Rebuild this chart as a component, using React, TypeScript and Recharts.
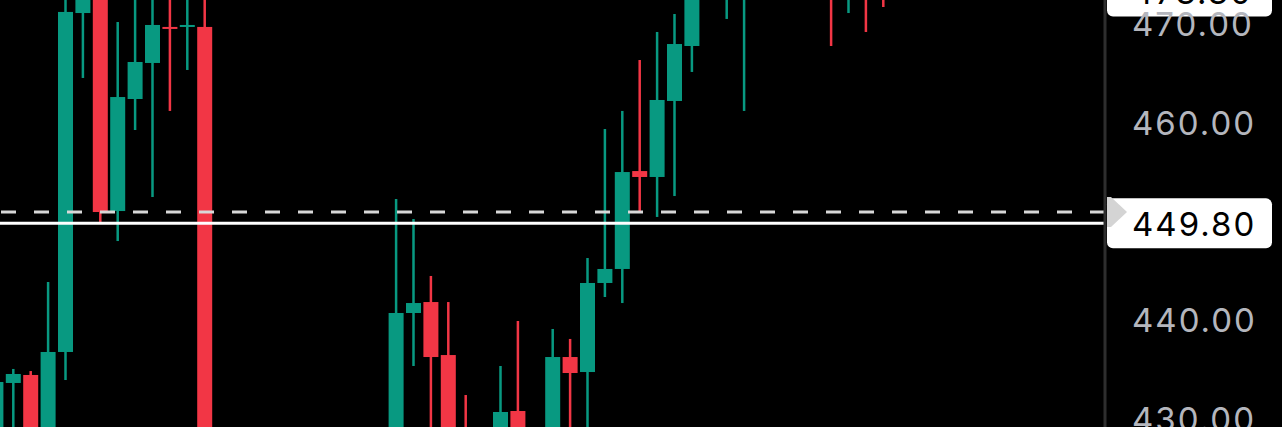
import { ComposedChart, Bar, XAxis, YAxis, ReferenceLine } from "recharts";

const GREEN = "#089981";
const RED = "#f23645";
const TICK_FONT = "Inter, 'Noto Sans', sans-serif";

// candle index on the time axis
const candleIdx = [
  0, 1, 2, 3, 4, 5, 6, 7, 8, 9, 10, 11, 12, 13, 14, 15, 16, 17, 18, 19, 20, 21, 22, 23, 24, 25,
  26, 27, 28, 29, 30, 31, 32, 33, 34, 35, 36, 37, 38, 39, 40, 41, 42, 43, 44, 45, 46, 47, 48, 49, 50, 51,
];
const opens = [
  428.0, 433.63, 434.44, 428.0, 436.77, 471.11, 475.0, 451.05, 462.4, 466.05, 469.7, 469.7, 469.7,
  427.0, 422.0, 424.0, 420.0, 423.0, 419.0, 421.5, 420.0, 423.0, 425.0, 426.0, 440.72, 441.83,
  436.46, 427.5, 425.0, 427.0, 430.79, 427.5, 428.5, 436.26, 434.74, 443.76, 445.18, 455.1, 454.5,
  462.2, 467.77, 473.5, 474.0, 474.0, 477.0, 478.0, 476.0, 477.0, 478.0, 474.0, 476.0, 475.0,
];
const highs = [
  434.2, 435.05, 434.84, 443.86, 473.5, 475.5, 476.0, 470.2, 473.5, 473.5, 473.0, 473.0, 474.0,
  428.5, 426.0, 425.0, 424.5, 424.0, 423.0, 424.0, 425.0, 427.0, 427.5, 452.27, 450.24, 444.47,
  441.83, 432.41, 428.8, 435.35, 439.91, 429.0, 439.1, 438.09, 446.29, 459.36, 461.19, 466.35, 469.19,
  471.01, 474.0, 476.0, 477.0, 478.0, 479.0, 480.0, 478.0, 479.0, 479.0, 477.0, 477.5, 476.0,
];
const lows = [
  426.0, 427.0, 425.0, 427.0, 433.93, 464.53, 449.94, 448.01, 459.26, 452.47, 461.19, 465.34, 424.0,
  420.0, 419.0, 417.0, 418.0, 416.0, 417.0, 418.0, 419.0, 421.0, 422.0, 424.0, 435.35, 428.0,
  425.0, 423.0, 423.0, 425.0, 426.0, 425.0, 427.0, 428.0, 428.0, 442.34, 441.73, 450.95, 450.45,
  452.57, 465.14, 472.8, 470.51, 461.19, 473.0, 474.0, 473.5, 474.0, 467.77, 471.11, 469.19, 471.72,
];
const closes = [
  433.73, 434.54, 426.5, 436.77, 471.22, 474.5, 450.95, 462.6, 466.15, 469.9, 469.5, 469.9, 427.0,
  422.0, 424.0, 420.0, 423.0, 419.0, 421.5, 420.0, 423.0, 425.0, 426.0, 440.72, 441.73, 436.26,
  427.5, 425.0, 427.0, 430.69, 427.5, 428.5, 436.26, 434.64, 443.76, 445.18, 455.0, 454.5, 462.3,
  467.97, 473.5, 475.0, 476.0, 477.0, 478.0, 476.0, 477.0, 478.0, 474.0, 476.0, 473.5, 473.0,
];

const yTicks = [430, 440, 460, 470];
const lastPrice = 449.8;
const markerPrice = 450.95;
const highMarkerPrice = 473.3;

const data = candleIdx.map((k, i) => ({
  k,
  o: opens[i],
  h: highs[i],
  l: lows[i],
  c: closes[i],
  range: [lows[i], highs[i]],
}));

const Candle = (props: any) => {
  const { x, y, width, height, payload } = props;
  if (!payload || height == null) return null;
  const { o, h, l, c } = payload;
  const cx = x + width / 2;
  const py = (v: number) => y + ((h - v) / (h - l)) * height;
  const color = c >= o ? GREEN : RED;
  const top = py(Math.max(o, c));
  const bot = py(Math.min(o, c));
  return (
    <g>
      <rect x={cx - 1.25} y={y} width={2.5} height={height} fill={color} />
      <rect x={cx - 7.5} y={top} width={15} height={Math.max(bot - top, 2)} fill={color} />
    </g>
  );
};

const PriceTick = ({ x, y, payload }: any) => (
  <text
    x={x}
    y={y}
    dominantBaseline="central"
    textAnchor="start"
    fill="#b4b6bd"
    fontSize={33}
    fontFamily={TICK_FONT}
    letterSpacing={2}
  >
    {payload.value.toFixed(2)}
  </text>
);

const priceBox = (text: string) => (props: any) => {
  const { viewBox } = props;
  const bx = viewBox.x + viewBox.width + 2;
  const cy = viewBox.y;
  return (
    <g>
      <rect x={bx} y={cy - 25} width={165} height={50} rx={6} fill="#ffffff" />
      <text
        x={bx + 25}
        y={cy + 1}
        dominantBaseline="central"
        fill="#000000"
        fontSize={33}
        fontFamily={TICK_FONT}
        letterSpacing={2}
      >
        {text}
      </text>
    </g>
  );
};

const markerArrow = (props: any) => {
  const { viewBox } = props;
  const bx = viewBox.x + viewBox.width + 2;
  const cy = viewBox.y;
  return (
    <polygon
      points={`${bx},${cy - 15} ${bx + 4},${cy - 15} ${bx + 20},${cy} ${bx + 4},${cy + 15} ${bx},${cy + 15}`}
      fill="#d4d4d4"
    />
  );
};

export default function App() {
  return (
    <div style={{ position: "fixed", left: 0, top: 0, width: 1282, height: 427, background: "#000" }}>
      <ComposedChart
        width={1282}
        height={427}
        data={data}
        margin={{ top: 0, right: 0, bottom: 0, left: 0 }}
      >
        <XAxis
          dataKey="k"
          type="number"
          domain={[0.224, 63.73]}
          allowDataOverflow
          hide
        />
        <YAxis
          orientation="right"
          width={177}
          domain={[429.17, 472.43]}
          allowDataOverflow
          ticks={yTicks}
          interval={0}
          tick={<PriceTick />}
          tickLine={false}
          tickSize={0}
          tickMargin={27}
          axisLine={{ stroke: "#2e2e2e", strokeWidth: 3 }}
        />
        <Bar dataKey="range" barSize={15} shape={<Candle />} isAnimationActive={false} />
        <ReferenceLine
          y={lastPrice}
          stroke="#ffffff"
          strokeWidth={3}
          label={priceBox(lastPrice.toFixed(2))}
        />
        <ReferenceLine
          y={markerPrice}
          stroke="#d8d8d8"
          strokeWidth={3}
          strokeDasharray="15 18"
          label={markerArrow}
        />
        <ReferenceLine
          y={highMarkerPrice}
          stroke="none"
          ifOverflow="visible"
          label={priceBox(highMarkerPrice.toFixed(2))}
        />
      </ComposedChart>
    </div>
  );
}
